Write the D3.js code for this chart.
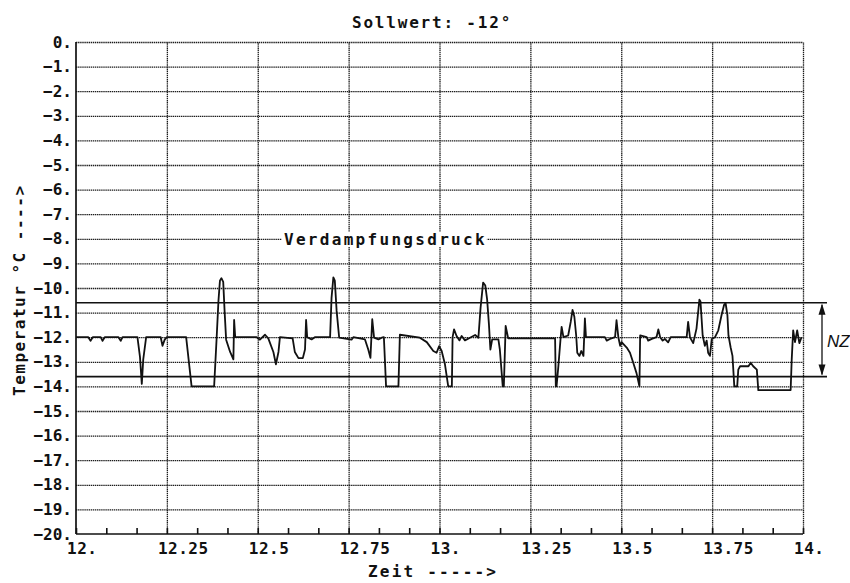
<!DOCTYPE html>
<html><head><meta charset="utf-8">
<script src="https://cdn.jsdelivr.net/npm/d3@7"></script>
<style>body{margin:0;background:#fff}svg{display:block}</style>
</head><body><svg id="c" width="850" height="583"></svg>
<script>
// ---- data ----
const zeit = [12.000,12.034,12.040,12.046,12.068,12.073,12.079,12.117,12.123,12.128,12.169,12.176,12.181,12.185,12.193,12.233,12.238,12.244,12.250,12.303,12.318,12.380,12.387,12.392,12.396,12.400,12.405,12.409,12.413,12.424,12.433,12.435,12.438,12.497,12.506,12.520,12.529,12.543,12.550,12.557,12.561,12.596,12.602,12.612,12.624,12.630,12.633,12.636,12.648,12.657,12.699,12.703,12.708,12.712,12.717,12.724,12.758,12.763,12.795,12.804,12.810,12.815,12.820,12.832,12.841,12.847,12.853,12.887,12.891,12.946,12.965,12.983,12.992,12.999,13.006,13.015,13.024,13.034,13.036,13.040,13.047,13.055,13.061,13.070,13.084,13.098,13.107,13.113,13.120,13.126,13.131,13.136,13.140,13.145,13.162,13.166,13.174,13.177,13.182,13.189,13.318,13.320,13.322,13.327,13.333,13.336,13.341,13.354,13.361,13.366,13.371,13.376,13.379,13.385,13.390,13.396,13.400,13.403,13.455,13.460,13.469,13.483,13.487,13.492,13.497,13.501,13.506,13.515,13.524,13.533,13.542,13.550,13.552,13.570,13.574,13.584,13.597,13.602,13.607,13.614,13.620,13.629,13.636,13.680,13.684,13.689,13.698,13.707,13.715,13.718,13.724,13.730,13.735,13.739,13.744,13.749,13.758,13.767,13.776,13.783,13.787,13.792,13.795,13.801,13.806,13.811,13.819,13.822,13.827,13.850,13.856,13.863,13.873,13.877,13.966,13.969,13.973,13.978,13.984,13.990,13.996];
const temp = [-12,-12,-12.15,-12,-12,-12.15,-12,-12,-12.15,-12,-12,-12.8,-13.9,-12.9,-12,-12,-12.35,-12.1,-12,-12,-14,-14,-12,-10.5,-9.7,-9.6,-9.75,-11.0,-12.1,-12.6,-12.9,-11.3,-12.0,-12,-12.1,-11.9,-12.05,-12.6,-13.1,-12.6,-12,-12.05,-12.6,-12.85,-12.85,-12.5,-11.3,-12.0,-12.09,-12.0,-12.0,-10.4,-9.57,-9.7,-10.93,-12.02,-12.1,-12.0,-12.09,-12.5,-12.84,-11.27,-12.02,-12.09,-12.02,-12.0,-14.0,-14.0,-11.9,-12.02,-12.2,-12.56,-12.63,-12.36,-12.56,-13.1,-14.0,-14.0,-12.0,-11.68,-11.95,-12.13,-11.95,-12.13,-12.02,-11.91,-12.02,-10.8,-9.78,-9.9,-10.46,-11.48,-12.5,-12.09,-12.09,-12.5,-14.0,-14.0,-11.54,-12.05,-12.05,-14.0,-14.0,-13.18,-12.07,-11.58,-12.0,-11.93,-11.38,-10.89,-11.17,-11.93,-12.63,-12.76,-12.56,-12.76,-11.24,-12.0,-12.0,-12.14,-12.07,-12.0,-11.31,-12.0,-12.35,-12.2,-12.28,-12.42,-12.63,-13.04,-13.46,-14.0,-11.93,-12.0,-12.14,-12.07,-12.0,-11.68,-12.0,-12.14,-12.07,-12.21,-12.0,-12.0,-11.38,-12.0,-12.24,-11.65,-10.47,-10.55,-11.93,-12.35,-12.14,-12.63,-12.76,-12.07,-12.0,-11.72,-11.1,-10.68,-10.61,-11.1,-11.93,-12.42,-12.76,-14.0,-14.0,-13.32,-13.18,-13.18,-13.04,-13.18,-13.32,-14.15,-14.15,-12.9,-11.72,-12.2,-11.72,-12.24,-12.0];
const yTickValues = d3.range(0, -21, -1);
const xTickValues = [12, 12.25, 12.5, 12.75, 13, 13.25, 13.5, 13.75, 14];
const xTickLabels = ["12.", "12.25", "12.5", "12.75", "13.", "13.25", "13.5", "13.75", "14."];
const minorTickValues = d3.range(0, 25).map(i => 12 + i / 12);
const limits = [-10.6, -13.6];
const titleText = "Sollwert: -12°";
const seriesLabel = "Verdampfungsdruck";
const xTitle = "Zeit ----->";
const yTitle = "Temperatur °C ---->";
const bandLabel = "NZ";

// ---- layout ----
const L = 76, R = 803, T = 42, B = 534;
const svg = d3.select("#c");
const x = d3.scaleLinear().domain([12, 14]).range([L, R]);
const y = d3.scaleLinear().domain([-20, 0]).range([B, T]);
const mono = "'DejaVu Sans Mono', monospace";
const ink = "#111";
const gridInk = "#1a1a1a";

// grid horizontal
svg.append("g").attr("transform", `translate(${L},0)`)
  .call(d3.axisLeft(y).tickValues(yTickValues.filter(v => v > -20)).tickSize(-(R - L)).tickFormat(""))
  .call(g => g.select(".domain").remove())
  .call(g => g.selectAll("line").attr("stroke", gridInk).attr("stroke-width", 1.3).attr("stroke-dasharray", "1.4,0.7"));
// grid vertical
svg.append("g").attr("transform", `translate(0,${B})`)
  .call(d3.axisBottom(x).tickValues(xTickValues.filter(v => v > 12)).tickSize(-(B - T)).tickFormat(""))
  .call(g => g.select(".domain").remove())
  .call(g => g.selectAll("line").attr("stroke", gridInk).attr("stroke-width", 1.3).attr("stroke-dasharray", "1.4,0.7"));

// solid axes
svg.append("line").attr("x1", L).attr("x2", L).attr("y1", T).attr("y2", B).attr("stroke", ink).attr("stroke-width", 1.7);
svg.append("line").attr("x1", L).attr("x2", R).attr("y1", B).attr("y2", B).attr("stroke", ink).attr("stroke-width", 1.7);

// minor ticks on bottom
svg.append("g").attr("transform", `translate(0,${B})`)
  .call(d3.axisBottom(x).tickValues(minorTickValues).tickSize(-6).tickFormat(""))
  .call(g => g.select(".domain").remove())
  .call(g => g.selectAll("line").attr("stroke", ink).attr("stroke-width", 1.6));

// y tick labels
svg.append("g").selectAll("text").data(yTickValues).join("text")
  .attr("x", L - 4).attr("y", d => y(d) + 5.5)
  .attr("text-anchor", "end")
  .attr("font-family", mono).attr("font-weight", "bold").attr("font-size", 16)
  .attr("fill", ink)
  .text(d => (d < 0 ? "\u2212" + Math.abs(d) : d) + ".");

// x tick labels
svg.append("g").selectAll("text").data(xTickValues).join("text")
  .attr("x", d => x(d) - 9).attr("y", 554)
  .attr("font-family", mono).attr("font-weight", "bold").attr("font-size", 16)
  .attr("letter-spacing", 0.5)
  .attr("fill", ink)
  .text((d, i) => xTickLabels[i]);

// titles
svg.append("text").attr("x", 352).attr("y", 28)
  .attr("font-family", mono).attr("font-weight", "bold").attr("font-size", 16)
  .attr("letter-spacing", 1.8).attr("fill", ink).text(titleText);
svg.append("text").attr("x", 368).attr("y", 577)
  .attr("font-family", mono).attr("font-weight", "bold").attr("font-size", 16)
  .attr("letter-spacing", 2.2).attr("fill", ink).text(xTitle);
svg.append("text").attr("transform", "translate(25,396) rotate(-90)")
  .attr("font-family", mono).attr("font-weight", "bold").attr("font-size", 16)
  .attr("letter-spacing", 1.5).attr("fill", ink).text(yTitle);

// series label with white background
const lab = svg.append("g");
const labText = lab.append("text").attr("x", 284).attr("y", 245)
  .attr("font-family", mono).attr("font-weight", "bold").attr("font-size", 16)
  .attr("letter-spacing", 2.3).attr("fill", ink).text(seriesLabel);
const bb = labText.node().getBBox();
lab.insert("rect", "text").attr("x", bb.x - 2).attr("y", bb.y + 2).attr("width", bb.width + 2).attr("height", bb.height - 4).attr("fill", "#fff");

// limit lines
svg.append("g").selectAll("line").data(limits).join("line")
  .attr("x1", L).attr("x2", R + 24).attr("y1", d => y(d)).attr("y2", d => y(d))
  .attr("stroke", ink).attr("stroke-width", 1.7);

// NZ arrow
const ax = R + 19;
svg.append("line").attr("x1", ax).attr("x2", ax).attr("y1", y(limits[0]) + 2).attr("y2", y(limits[1]) - 2)
  .attr("stroke", ink).attr("stroke-width", 1.3);
svg.append("path").attr("d", `M${ax},${y(limits[0]) + 1} l-3.5,11 l7,0 Z`).attr("fill", ink);
svg.append("path").attr("d", `M${ax},${y(limits[1]) - 1} l-3.5,-11 l7,0 Z`).attr("fill", ink);
svg.append("text").attr("x", ax + 5).attr("y", (y(limits[0]) + y(limits[1])) / 2 + 7)
  .attr("font-family", "'Liberation Sans Narrow', 'Liberation Sans', sans-serif").attr("font-style", "italic").attr("font-size", 17)
  .attr("fill", ink).text(bandLabel);

// series trace
const line = d3.line().x(i => x(zeit[i])).y(i => y(temp[i]));
svg.append("path").attr("d", line(d3.range(zeit.length)))
  .attr("fill", "none").attr("stroke", ink).attr("stroke-width", 1.8).attr("stroke-linejoin", "round");
</script></body></html>
